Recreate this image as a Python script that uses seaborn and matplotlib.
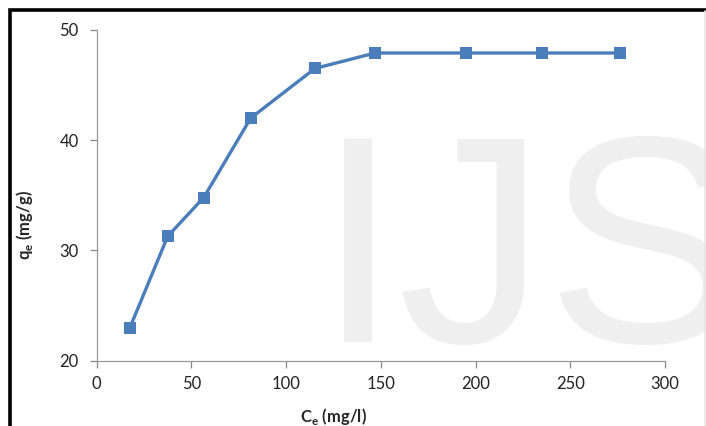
import numpy as np
import pandas as pd
import matplotlib
matplotlib.use("Agg")
import matplotlib.pyplot as plt
import seaborn as sns
from matplotlib.patches import Rectangle
from matplotlib.lines import Line2D

# equilibrium data
ce = [17.5, 37.5, 56.5, 81.3, 115.2, 146.9, 194.9, 235.1, 276.3]
qe = [23.0, 31.3, 34.8, 42.0, 46.5, 47.9, 47.9, 47.9, 47.9]

x_ticks = [0, 50, 100, 150, 200, 250, 300]
y_ticks = [20, 30, 40, 50]

df = pd.DataFrame({"Ce": ce, "qe": qe})

sns.set_style("white")
plt.rcParams["font.family"] = ["Lato", "DejaVu Sans"]

fig = plt.figure(figsize=(7.06, 4.26), dpi=100)
ax = fig.add_axes([0.137, 0.153, 0.805, 0.777])
ax.set_zorder(2)
ax.patch.set_alpha(0)

# watermark
fig.text(0.448, 0.197, "IJS", fontsize=213, color="#efefef",
         family="Liberation Sans", zorder=0)

# frame around the chart
fig.patches.append(Rectangle((0.0135, -0.1), 1.1, 1.077, transform=fig.transFigure,
                             fill=False, edgecolor="black", linewidth=2.6, zorder=1))
fig.lines.append(Line2D([0.9985, 0.9985], [0, 0.975], transform=fig.transFigure,
                        color="#e6e6e6", linewidth=1.2))

sns.lineplot(data=df, x="Ce", y="qe", ax=ax, color="#4a7ebb", linewidth=2.4,
             marker="s", markersize=9, markeredgewidth=0, sort=False)

ax.set_xlim(0, 300)
ax.set_ylim(20, 50)
ax.set_xticks(x_ticks)
ax.set_yticks(y_ticks)
ax.tick_params(axis="both", direction="out", length=5, width=0.9, color="#888888",
               labelsize=12, labelcolor="#222222", left=True, bottom=True, pad=6)
ax.tick_params(axis="y", pad=8)
for s in ["top", "right"]:
    ax.spines[s].set_visible(False)
for s in ["left", "bottom"]:
    ax.spines[s].set_color("#999999")
    ax.spines[s].set_linewidth(0.9)

ax.set_xlabel(r"C$_\mathregular{e}$ (mg/l)", fontsize=12, fontweight="bold", labelpad=3)
ax.xaxis.set_label_coords(0.417, -0.135)
ax.set_ylabel(r"q$_\mathregular{e}$ (mg/g)", fontsize=12, fontweight="bold")
ax.yaxis.set_label_coords(-0.108, 0.41)

fig.savefig("out.png", dpi=100)
